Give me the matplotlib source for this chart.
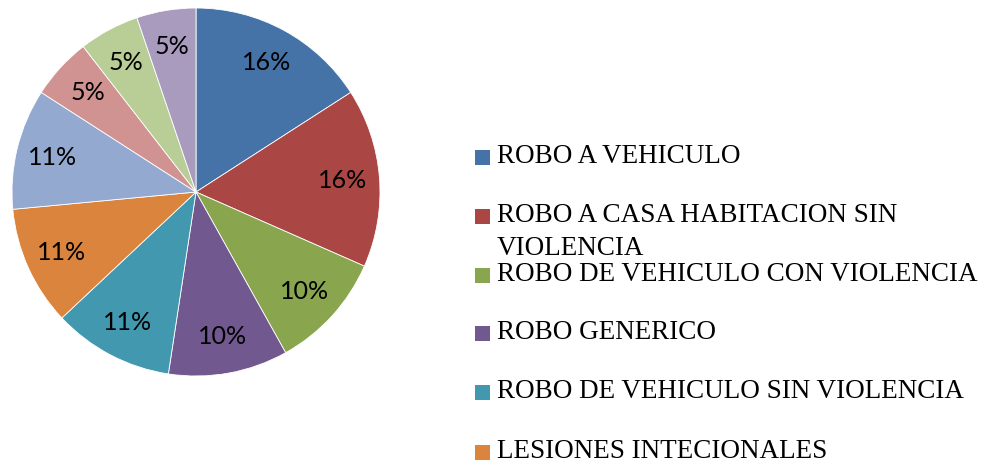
import matplotlib
matplotlib.use("Agg")
import matplotlib.pyplot as plt
from matplotlib.patches import Rectangle

# shares, with the percentage labels as printed
shares = [15.9, 15.7, 10.3, 10.5, 10.6, 10.5, 10.6, 5.4, 5.3, 5.2]
pct_labels = ['16%', '16%', '10%', '10%', '11%', '11%', '11%', '5%', '5%', '5%']
colors = ['#4572A7', '#AA4643', '#89A54E', '#71588F', '#4198AF',
          '#DB843D', '#93A9CF', '#D19392', '#B9CD96', '#A99BBD']
# only the first six legend entries are visible in the original
legend_labels = [['ROBO A VEHICULO'],
                 ['ROBO A CASA HABITACION SIN', 'VIOLENCIA'],
                 ['ROBO DE VEHICULO CON VIOLENCIA'],
                 ['ROBO GENERICO'],
                 ['ROBO DE VEHICULO SIN VIOLENCIA'],
                 ['LESIONES INTECIONALES']]

W, H = 999, 463
fig = plt.figure(figsize=(W / 100, H / 100), dpi=100)

# pie axes: centre (196,192) px, radius 184 px
cx, cy, r = 196, 192, 184
ax = fig.add_axes([(cx - r) / W, (H - cy - r) / H, 2 * r / W, 2 * r / H])
wedges, texts = ax.pie(shares, labels=pct_labels, colors=colors, startangle=90,
                       counterclock=False, labeldistance=0.8,
                       wedgeprops=dict(edgecolor='white', linewidth=0.6),
                       textprops=dict(fontsize=18, family=['Lato', 'DejaVu Sans'],
                                      color='black'))
for t in texts:
    t.set_ha('center')
    t.set_va('center')
ax.set_xlim(-1, 1)
ax.set_ylim(-1, 1)
ax.set_aspect('equal')
ax.axis('off')

# legend drawn by hand so the wrapped entry keeps its marker on the first line
row_y = [157, 216, 275, 333, 392, 452]
box = 15
for i, lines in enumerate(legend_labels):
    y = row_y[i]
    fig.patches.append(Rectangle((475 / W, (H - y - box / 2) / H), box / W, box / H,
                                 transform=fig.transFigure, facecolor=colors[i],
                                 edgecolor='none'))
    for k, line in enumerate(lines):
        fig.text(497 / W, (H - y - 6 - 33 * k) / H, line, ha='left', va='baseline',
                 fontsize=19.5, family='Liberation Serif', color='black')

fig.savefig('out.png', dpi=100)
